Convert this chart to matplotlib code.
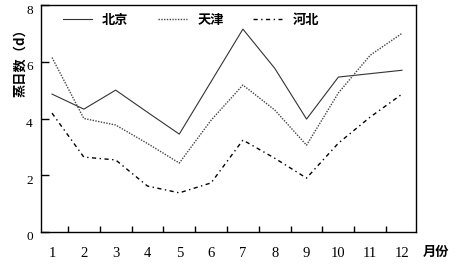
import numpy as np
import matplotlib
matplotlib.use("Agg")
import matplotlib.pyplot as plt
import matplotlib.transforms as mtransforms

# evaporation days per month
months = np.arange(1, 13)
month_labels = [str(m) for m in months]
beijing = [4.86, 4.33, 5.0, 4.22, 3.45, 5.3, 7.15, 5.77, 3.98, 5.46, 5.58, 5.7]
tianjin = [6.15, 4.0, 3.77, 3.12, 2.43, 3.94, 5.18, 4.3, 3.06, 4.9, 6.23, 7.0]
hebei = [4.19, 2.64, 2.54, 1.62, 1.38, 1.73, 3.24, 2.6, 1.9, 3.13, 4.05, 4.86]
names = ['北京', '天津', '河北']
yticks = [0, 2, 4, 6, 8]

cjk = ['Noto Sans CJK SC', 'DejaVu Sans']
serif = 'Liberation Serif'

fig = plt.figure(figsize=(4.57, 2.67), dpi=100)
ax = fig.add_axes([41/457, 1 - 232/267, 375/457, 227/267])

ax.plot(months, beijing, '-', color='#333333', lw=0.8, label=names[0])
ax.plot(months, tianjin, color='#444444', lw=1.0, ls=(0, (1, 1)), label=names[1])
ax.plot(months, hebei, color='black', lw=1.0, ls=(0, (3, 2.5, 1, 2.5)), label=names[2])

ax.set_xlim(0.654, 12.44)
ax.set_ylim(0, 8)

# y axis
ax.set_yticks(yticks)
ax.set_yticklabels([str(v) for v in yticks], fontfamily=serif, fontsize=9.5)
ax.tick_params(axis='y', direction='in', length=6, width=1, pad=6)
offset = mtransforms.ScaledTranslation(0, -4/100, fig.dpi_scale_trans)
for lab in ax.get_yticklabels():
    lab.set_transform(lab.get_transform() + offset)

# x axis: labels under months, tick marks between them
ax.set_xticks(months)
ax.set_xticklabels(month_labels, fontfamily=serif, fontsize=10.5)
ax.tick_params(axis='x', which='major', length=0, pad=11)
ax.set_xticks(months[:-1] + 0.5, minor=True)
ax.tick_params(axis='x', which='minor', direction='in', length=4.5, width=1)

for s in ax.spines.values():
    s.set_linewidth(1.0)
    s.set_color('black')

# y label as free text, rotated
fig.text(20/457, 1 - 60/267, '蒸日数（d）', family=cjk, fontsize=9.5,
         fontweight='bold', rotation=90, ha='center', va='center',
         rotation_mode='anchor')

fig.text(436/457, 1 - 252/267, '月份', family=cjk, fontsize=9.5,
         fontweight='bold', ha='center', va='center')

ax.legend(loc='center left', bbox_to_anchor=(0.04, 0.934), ncol=3,
          frameon=False, borderpad=0, handlelength=2.2, handletextpad=0.8,
          columnspacing=2.2, prop={'family': cjk, 'size': 9.5, 'weight': 'bold'})

fig.savefig('out.png', dpi=100)
